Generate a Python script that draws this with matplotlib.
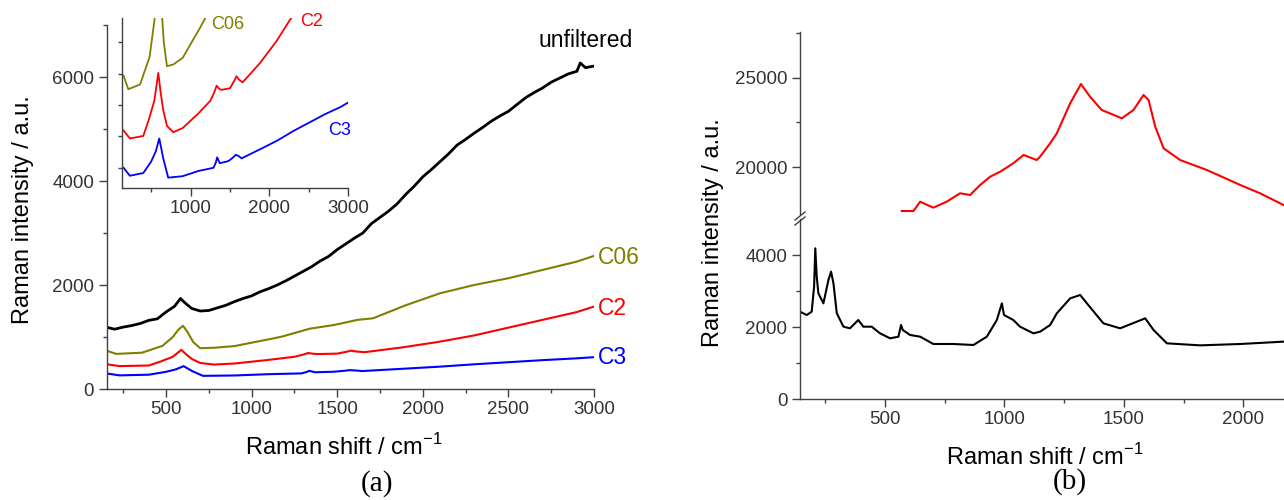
import matplotlib
matplotlib.use("Agg")
import matplotlib.pyplot as plt
from matplotlib.lines import Line2D

plt.rcParams['font.family'] = ['Liberation Sans', 'DejaVu Sans']

# ---- panel (a): filtered / unfiltered spectra ----
x_unf = [150, 200, 250, 300, 350, 400, 450, 500, 550, 585, 610, 650, 700, 750, 800, 850, 900,
         950, 1000, 1050, 1100, 1150, 1200, 1250, 1300, 1350, 1400, 1450, 1500, 1550, 1600,
         1650, 1700, 1750, 1800, 1850, 1900, 1950, 2000, 2050, 2100, 2150, 2200, 2250, 2300,
         2350, 2400, 2450, 2500, 2550, 2600, 2650, 2700, 2750, 2800, 2850, 2900, 2920, 2950, 3000]
y_unf = [1190, 1150, 1190, 1220, 1260, 1320, 1350, 1480, 1590, 1740, 1660, 1550, 1500, 1510,
         1560, 1610, 1680, 1740, 1790, 1870, 1930, 2000, 2080, 2170, 2260, 2350, 2460, 2550,
         2680, 2790, 2900, 3000, 3180, 3300, 3420, 3560, 3740, 3900, 4080, 4220, 4370, 4520,
         4690, 4800, 4920, 5030, 5150, 5250, 5340, 5470, 5600, 5700, 5790, 5900, 5980, 6060,
         6110, 6270, 6180, 6210]

x_c06 = [150, 210, 360, 480, 540, 575, 600, 625, 660, 700, 780, 900, 1030, 1120, 1180, 1340,
         1480, 1620, 1710, 1900, 2100, 2300, 2500, 2700, 2900, 3000]
y_c06 = [740, 675, 698, 830, 1000, 1150, 1215, 1100, 900, 785, 793, 825, 910, 968, 1010, 1160,
         1230, 1330, 1360, 1610, 1840, 2000, 2130, 2290, 2450, 2560]

x_c2 = [150, 230, 400, 470, 540, 590, 620, 653, 700, 780, 900, 1100, 1250, 1300, 1330, 1360,
        1390, 1500, 1560, 1582, 1610, 1660, 1880, 2090, 2300, 2500, 2700, 2900, 3000]
y_c2 = [478, 440, 452, 530, 620, 753, 660, 575, 500, 470, 490, 560, 620, 660, 692, 678,
        672, 680, 720, 737, 722, 708, 800, 905, 1030, 1180, 1330, 1480, 1585]

x_c3 = [150, 230, 400, 500, 560, 603, 653, 716, 900, 1100, 1290, 1320, 1337, 1370, 1480, 1540,
        1573, 1610, 1646, 1900, 2100, 2300, 2500, 2700, 2900, 3000]
y_c3 = [300, 262, 275, 330, 380, 440, 345, 253, 260, 285, 300, 325, 350, 322, 332, 350,
        362, 356, 345, 392, 430, 475, 515, 555, 590, 612]

# ---- panel (b): two spectra on broken axis ----
x_blk = [144, 172, 193, 203, 208, 214, 221, 242, 263, 274, 284, 298, 326, 353, 388, 409, 444,
         479, 521, 556, 567, 574, 605, 647, 702, 786, 870, 926, 968, 989, 998, 1037, 1065, 1121,
         1149, 1191, 1219, 1275, 1317, 1345, 1414, 1484, 1554, 1589, 1624, 1680, 1819, 1987, 2168]
y_blk = [2425, 2333, 2425, 3120, 4186, 3398, 2935, 2657, 3305, 3537, 3213, 2380, 2009, 1963,
         2194, 2009, 2009, 1824, 1685, 1731, 2055, 1917, 1778, 1731, 1528, 1528, 1500, 1731,
         2194, 2657, 2333, 2194, 2009, 1824, 1870, 2055, 2380, 2796, 2889, 2657, 2102, 1963,
         2148, 2241, 1917, 1546, 1490, 1528, 1593]

x_red = [570, 619, 647, 702, 758, 814, 856, 898, 940, 982, 1037, 1080, 1135, 1149, 1191, 1219,
         1275, 1320, 1358, 1407, 1491, 1540, 1582, 1603, 1631, 1666, 1735, 1847, 1987, 2070, 2168]
y_red = [17561, 17561, 18081, 17747, 18081, 18549, 18454, 19012, 19475, 19754, 20223, 20686,
         20407, 20592, 21339, 21897, 23571, 24648, 23940, 23198, 22734, 23198, 24035, 23756,
         22266, 21060, 20407, 19849, 19012, 18549, 17896]

W, H = 1284, 500
OLIVE = '#7f7f00'
AXC = '#404040'


def rect(l, t, r, b):
    return [l / W, 1 - b / H, (r - l) / W, (b - t) / H]


def style(ax, fs=13.5):
    ax.spines['top'].set_visible(False)
    ax.spines['right'].set_visible(False)
    for s in ('left', 'bottom'):
        ax.spines[s].set_color(AXC)
        ax.spines[s].set_linewidth(1.0)
    ax.tick_params(which='major', direction='out', length=5.5, width=1, colors=AXC,
                   labelsize=fs, labelcolor='#333333')
    ax.tick_params(which='minor', direction='out', length=3, width=1, colors=AXC)
    ax.set_facecolor('none')


fig = plt.figure(figsize=(W / 100, H / 100), dpi=100)

# panel (a)
axA = fig.add_axes(rect(106.7, 25, 594, 389))
axA.plot(x_unf, y_unf, color='black', lw=2.0)
axA.plot(x_c06, y_c06, color=OLIVE, lw=1.5)
axA.plot(x_c2, y_c2, color='red', lw=1.5)
axA.plot(x_c3, y_c3, color='blue', lw=1.5)
axA.set_xlim(154, 3000)
axA.set_ylim(0, 7000)
axA.set_xticks([500, 1000, 1500, 2000, 2500, 3000])
axA.set_xticks([250, 750, 1250, 1750, 2250, 2750], minor=True)
axA.set_yticks([0, 2000, 4000, 6000])
axA.set_yticks([1000, 3000, 5000, 7000], minor=True)
style(axA)
axA.text(2950, 6710, 'unfiltered', color='black', fontsize=16.5, ha='center', va='center')
axA.text(3025, 2520, 'C06', color=OLIVE, fontsize=16.5, ha='left', va='center')
axA.text(3025, 1540, 'C2', color='red', fontsize=16.5, ha='left', va='center')
axA.text(3025, 615, 'C3', color='blue', fontsize=16.5, ha='left', va='center')

# inset in (a)
axIn = fig.add_axes(rect(122, 18, 348.3, 187.7))
axIn.plot(x_c06, y_c06, color=OLIVE, lw=1.3)
axIn.plot(x_c2, y_c2, color='red', lw=1.3)
axIn.plot(x_c3, y_c3, color='blue', lw=1.3)
axIn.set_xlim(130, 3000)
axIn.set_ylim(205, 1015)
axIn.set_xticks([1000, 2000, 3000])
axIn.set_xticks([500, 1500, 2500], minor=True)
axIn.set_yticks([300, 450, 600, 750, 900])
axIn.set_yticklabels([])
style(axIn, fs=13.5)
axIn.tick_params(axis='y', which='major', length=3)
axIn.text(1266, 983, 'C06', color=OLIVE, fontsize=13, ha='left', va='center')
axIn.text(2384, 998, 'C2', color='red', fontsize=13, ha='left', va='center')
axIn.text(2738, 479, 'C3', color='blue', fontsize=13, ha='left', va='center')

# panel (b), upper part
axBu = fig.add_axes(rect(800, 32.3, 1284, 214))
axBu.plot(x_red, y_red, color='red', lw=1.5)
axBu.set_xlim(144, 2170)
axBu.set_ylim(17394, 27533)
axBu.set_yticks([20000, 25000])
axBu.set_yticks([22500, 27500], minor=True)
style(axBu)
axBu.spines['bottom'].set_visible(False)
axBu.tick_params(axis='x', which='both', bottom=False, labelbottom=False)

# panel (b), lower part
axBl = fig.add_axes(rect(800, 219, 1284, 399))
axBl.plot(x_blk, y_blk, color='black', lw=1.5)
axBl.set_xlim(144, 2170)
axBl.set_ylim(0, 5000)
axBl.set_xticks([500, 1000, 1500, 2000])
axBl.set_xticks([250, 750, 1250, 1750], minor=True)
axBl.set_yticks([0, 2000, 4000])
axBl.set_yticks([1000, 3000], minor=True)
style(axBl)

# break marks on the y spine
for dy in (0, 5):
    fig.add_artist(Line2D([795 / W, 805 / W], [1 - (220 + dy) / H, 1 - (212 + dy) / H],
                          color=AXC, lw=1.0))

# axis labels and panel letters
xlab = r'Raman shift / cm$^{\mathregular{-1}}$'
fig.text(23 / W, 1 - 210 / H, 'Raman intensity / a.u.', rotation=90, fontsize=17,
         ha='center', va='center')
fig.text(344 / W, 1 - 447 / H, xlab, fontsize=17, ha='center', va='center')
fig.text(713 / W, 1 - 233 / H, 'Raman intensity / a.u.', rotation=90, fontsize=17,
         ha='center', va='center')
fig.text(1045 / W, 1 - 457 / H, xlab, fontsize=17, ha='center', va='center')
fig.text(377 / W, 1 - 484 / H, '(a)', fontsize=21, family='Liberation Serif',
         ha='center', va='center')
fig.text(1070 / W, 1 - 482 / H, '(b)', fontsize=21, family='Liberation Serif',
         ha='center', va='center')

fig.savefig('out.png', dpi=100)
